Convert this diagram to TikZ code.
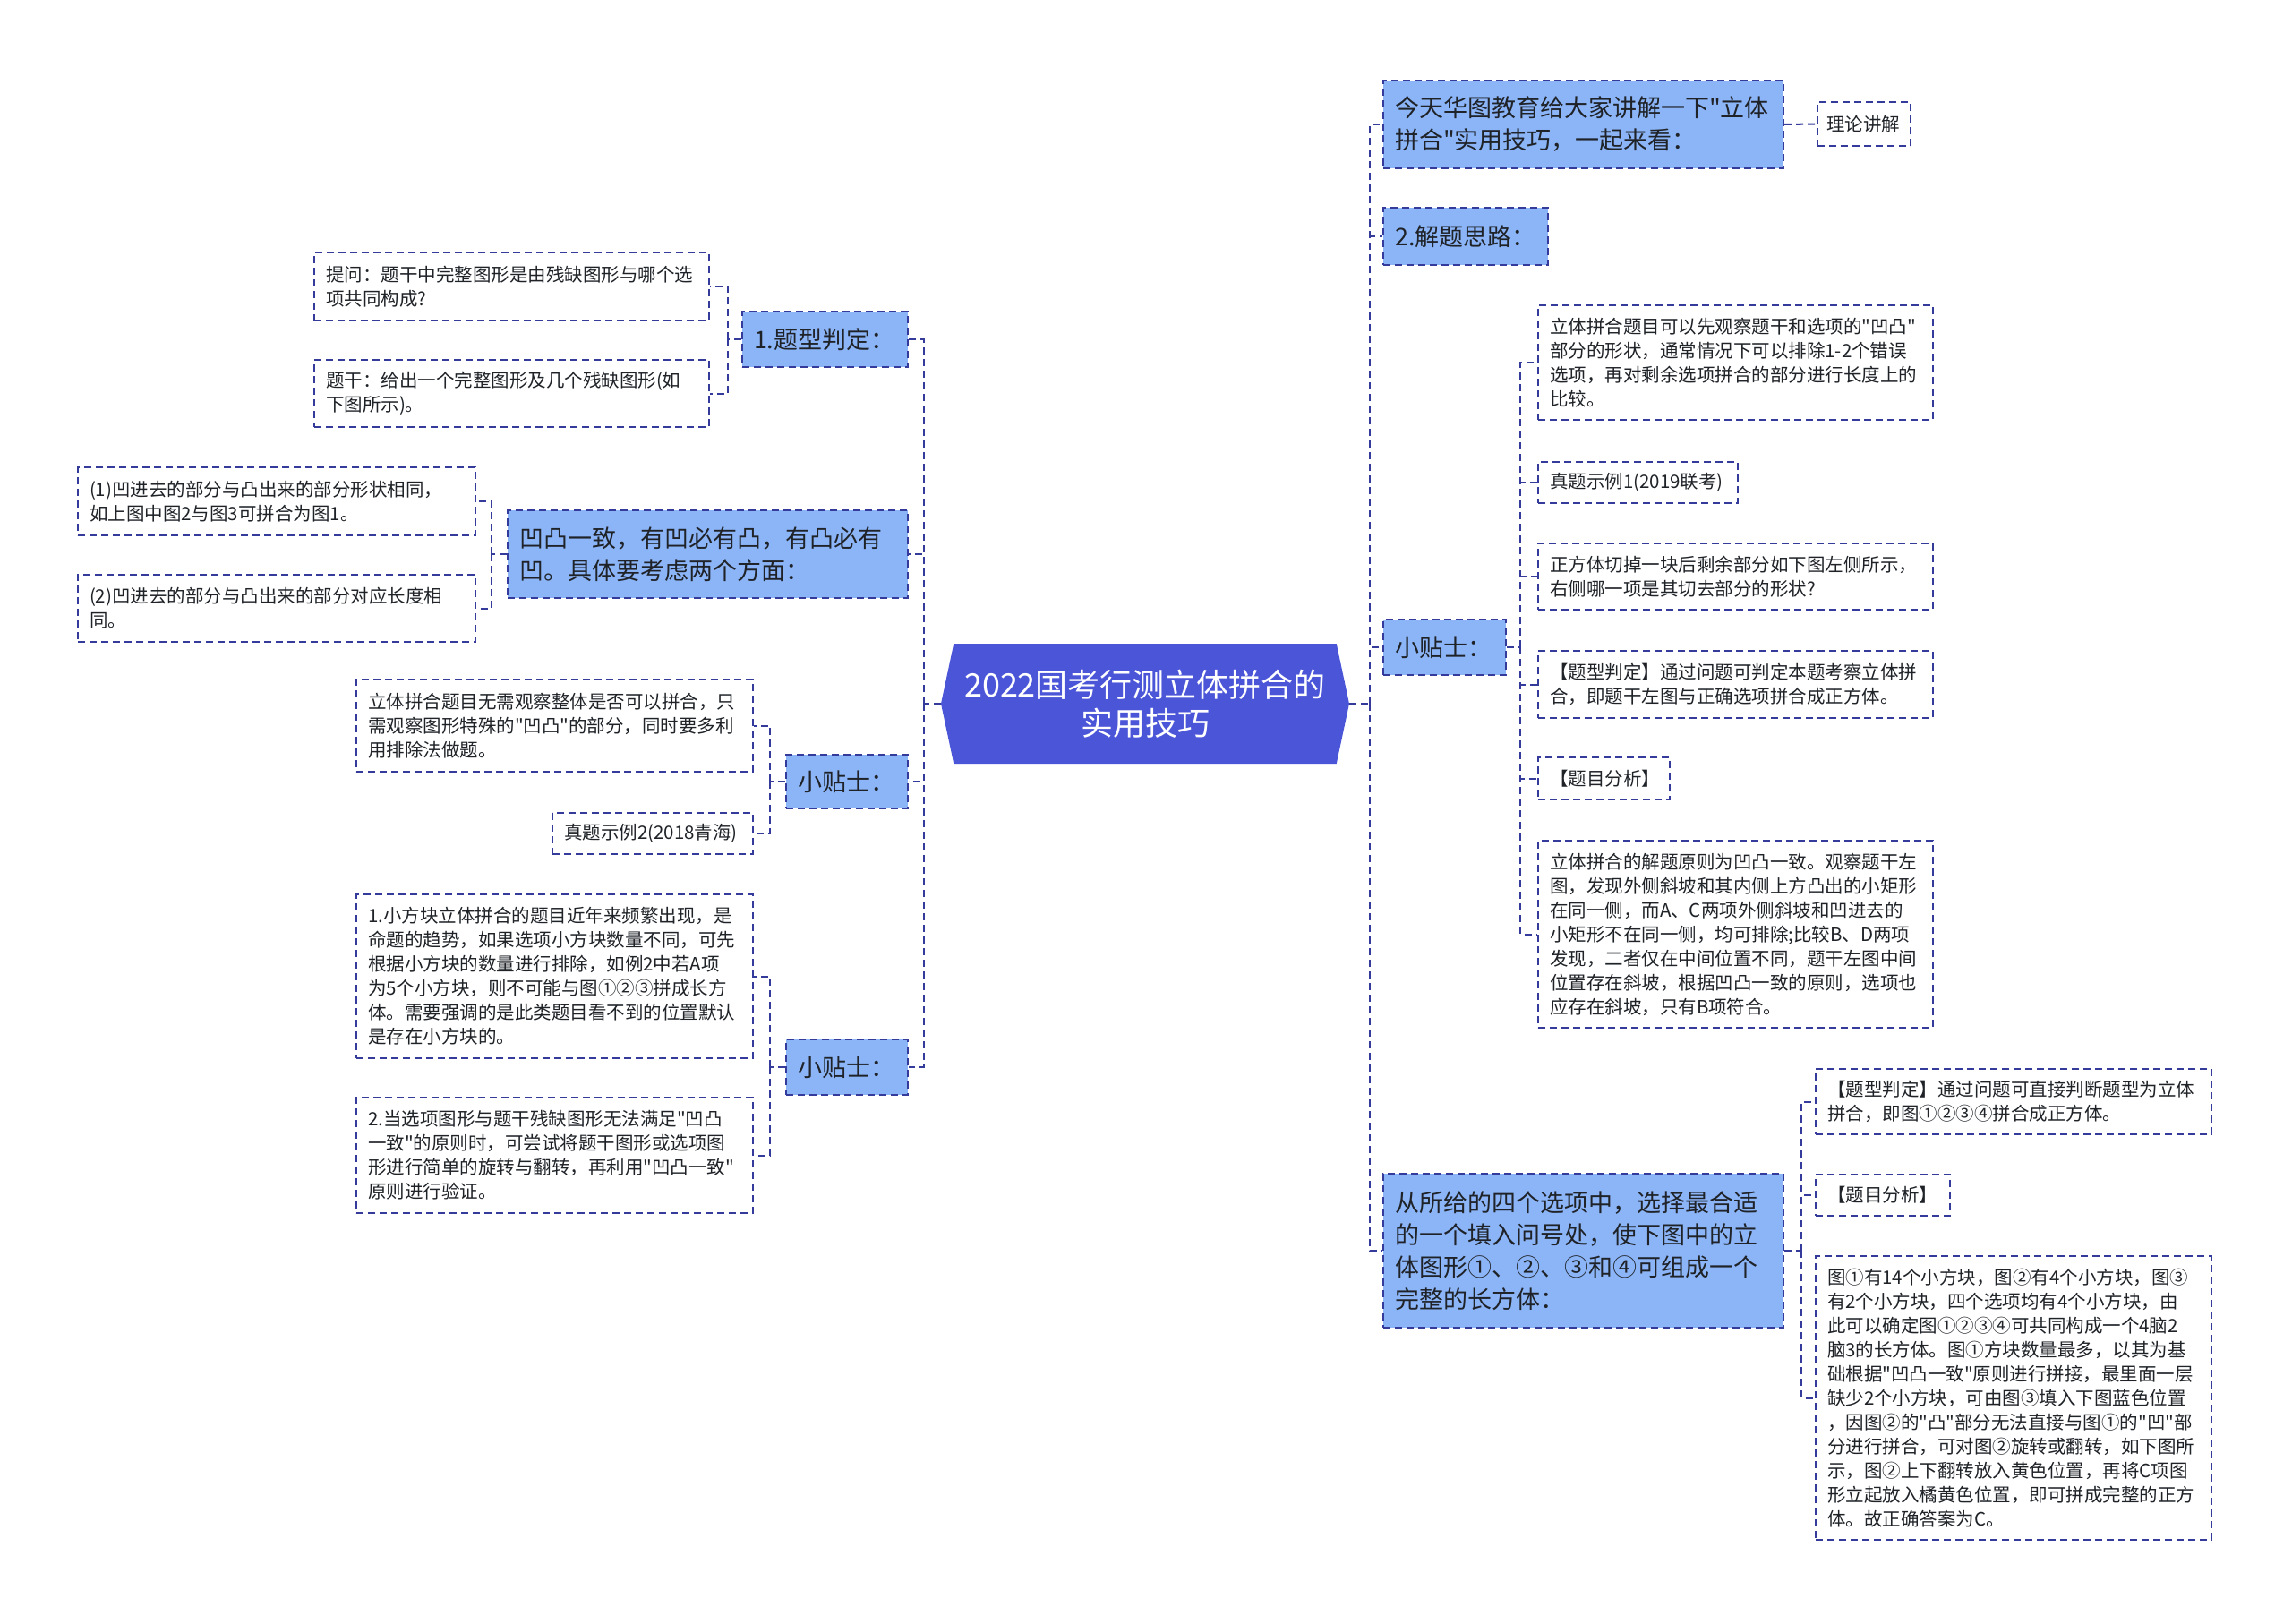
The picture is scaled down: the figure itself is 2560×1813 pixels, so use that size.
\documentclass[tikz,border=0pt]{standalone}
\usepackage{fontspec}
\setmainfont{Noto Sans CJK SC}[Ligatures=TeXOff]
\usepackage{tikz}
\usetikzlibrary{positioning,shapes.symbols,calc}
\definecolor{ink}     {HTML}{1F2328}
\definecolor{navy}    {HTML}{343B9A}
\definecolor{rootfill}{HTML}{4B55D8}
\definecolor{topicfill}{HTML}{8CB5F8}
\tikzset{
  % --- nodes
  topic/.style = {draw=navy, fill=topicfill, line width=2pt, dash pattern=on 8pt off 5pt,
                  align=left, inner xsep=13pt, inner ysep=0pt, text=ink,
                  font=\fontsize{27}{36}\selectfont},
  leaf/.style  = {topic, fill=white, font=\fontsize{20.5}{27}\selectfont},
  root/.style  = {signal, signal to=west and east, signal pointer angle=156,
                  fill=rootfill, text=white, align=center, inner sep=0pt,
                  minimum width=456pt, minimum height=134pt,
                  font=\fontsize{36}{43}\selectfont},
  % --- edges
  link/.style  = {draw=navy, line width=2pt, dash pattern=on 8pt off 5pt},
}
\begin{document}
\begin{tikzpicture}[x=1pt,y=-1pt]
  \useasboundingbox (0,0) rectangle (2560,1813);

  \node[root] (root) at (1279,786) {2022国考行测立体拼合的\\实用技巧};

  % right side
  \node[topic, text width=421pt, minimum height=98pt] (r1) at (1768.5,139)
    {今天华图教育给大家讲解一下"立体\\拼合"实用技巧，一起来看：};
  \node[leaf, text width=84pt, inner xsep=10pt, minimum height=49pt] (r1a) at (2082,138.5) {理论讲解};
  \node[topic, text width=158pt, minimum height=64pt] (r2) at (1637,264) {2.解题思路：};
  \node[topic, text width=111pt, minimum height=62pt] (r3) at (1613.5,723) {小贴士：};
  \node[leaf, text width=415pt, minimum height=128pt] (r3a) at (1938.5,405)
    {立体拼合题目可以先观察题干和选项的"凹凸"\\部分的形状，通常情况下可以排除1-2个错误\\选项，再对剩余选项拼合的部分进行长度上的\\比较。};
  \node[leaf, text width=197pt, minimum height=46pt] (r3b) at (1829.5,539) {真题示例1(2019联考)};
  \node[leaf, text width=415pt, minimum height=74pt] (r3c) at (1938.5,644)
    {正方体切掉一块后剩余部分如下图左侧所示，\\右侧哪一项是其切去部分的形状?};
  \node[leaf, text width=415pt, minimum height=75pt] (r3d) at (1938.5,764.5)
    {【题型判定】通过问题可判定本题考察立体拼\\合，即题干左图与正确选项拼合成正方体。};
  \node[leaf, text width=121pt, minimum height=47pt] (r3e) at (1791.5,869.5) {【题目分析】};
  \node[leaf, text width=415pt, minimum height=209pt] (r3f) at (1938.5,1043.5)
    {立体拼合的解题原则为凹凸一致。观察题干左\\图，发现外侧斜坡和其内侧上方凸出的小矩形\\在同一侧，而A、C两项外侧斜坡和凹进去的\\小矩形不在同一侧，均可排除;比较B、D两项\\发现，二者仅在中间位置不同，题干左图中间\\位置存在斜坡，根据凹凸一致的原则，选项也\\应存在斜坡，只有B项符合。};
  \node[topic, text width=421pt, minimum height=172pt] (r4) at (1768.5,1397)
    {从所给的四个选项中，选择最合适\\的一个填入问号处，使下图中的立\\体图形①、②、③和④可组成一个\\完整的长方体：};
  \node[leaf, text width=416pt, minimum height=73pt] (r4a) at (2249,1230.5)
    {【题型判定】通过问题可直接判断题型为立体\\拼合，即图①②③④拼合成正方体。};
  \node[leaf, text width=124pt, minimum height=46pt] (r4b) at (2103,1335) {【题目分析】};
  \node[leaf, text width=416pt, minimum height=317pt] (r4c) at (2249,1561.5)
    {图①有14个小方块，图②有4个小方块，图③\\有2个小方块，四个选项均有4个小方块，由\\此可以确定图①②③④可共同构成一个4脑2\\脑3的长方体。图①方块数量最多，以其为基\\础根据"凹凸一致"原则进行拼接，最里面一层\\缺少2个小方块，可由图③填入下图蓝色位置\\，因图②的"凸"部分无法直接与图①的"凹"部\\分进行拼合，可对图②旋转或翻转，如下图所\\示，图②上下翻转放入黄色位置，再将C项图\\形立起放入橘黄色位置，即可拼成完整的正方\\体。故正确答案为C。};

  % left side
  \node[topic, text width=159pt, minimum height=62pt] (l1) at (921.5,379) {1.题型判定：};
  \node[leaf, text width=415pt, minimum height=76pt] (l1a) at (571.5,320)
    {提问：题干中完整图形是由残缺图形与哪个选\\项共同构成?};
  \node[leaf, text width=415pt, minimum height=75pt] (l1b) at (571.5,439.5)
    {题干：给出一个完整图形及几个残缺图形(如\\下图所示)。};
  \node[topic, text width=421pt, minimum height=98pt] (l2) at (790.5,619)
    {凹凸一致，有凹必有凸，有凸必有\\凹。具体要考虑两个方面：};
  \node[leaf, text width=418pt, minimum height=76pt] (l2a) at (309,560)
    {(1)凹进去的部分与凸出来的部分形状相同，\\如上图中图2与图3可拼合为图1。};
  \node[leaf, text width=418pt, minimum height=75pt] (l2b) at (309,679.5)
    {(2)凹进去的部分与凸出来的部分对应长度相\\同。};
  \node[topic, text width=110pt, minimum height=60pt] (l3) at (946,873) {小贴士：};
  \node[leaf, text width=417pt, minimum height=103pt] (l3a) at (619.5,810.5)
    {立体拼合题目无需观察整体是否可以拼合，只\\需观察图形特殊的"凹凸"的部分，同时要多利\\用排除法做题。};
  \node[leaf, text width=198pt, minimum height=46pt] (l3b) at (729,931) {真题示例2(2018青海)};
  \node[topic, text width=110pt, minimum height=62pt] (l4) at (946,1192) {小贴士：};
  \node[leaf, text width=417pt, minimum height=183pt] (l4a) at (619.5,1090.5)
    {1.小方块立体拼合的题目近年来频繁出现，是\\命题的趋势，如果选项小方块数量不同，可先\\根据小方块的数量进行排除，如例2中若A项\\为5个小方块，则不可能与图①②③拼成长方\\体。需要强调的是此类题目看不到的位置默认\\是存在小方块的。};
  \node[leaf, text width=417pt, minimum height=129pt] (l4b) at (619.5,1290.5)
    {2.当选项图形与题干残缺图形无法满足"凹凸\\一致"的原则时，可尝试将题干图形或选项图\\形进行简单的旋转与翻转，再利用"凹凸一致"\\原则进行验证。};

  % junctions
  \coordinate (rj)  at (1530,786);
  \coordinate (lj)  at (1032,786);
  \coordinate (r3j) at (1698,723);
  \coordinate (r4j) at (2012,1397);
  \coordinate (l1j) at (813,379);
  \coordinate (l2j) at (549,619);
  \coordinate (l3j) at (860,873);
  \coordinate (l4j) at (860,1192);

  \draw[link] (root.east) -- (rj);
  \foreach \n in {r1,r2,r3,r4} \draw[link] (rj) |- (\n.west);
  \draw[link] (r1.east) -- (r1a.west);
  \draw[link] (r3.east) -- (r3j);
  \foreach \n in {r3a,r3b,r3c,r3d,r3e,r3f} \draw[link] (r3j) |- (\n.west);
  \draw[link] (r4.east) -- (r4j);
  \foreach \n in {r4a,r4b,r4c} \draw[link] (r4j) |- (\n.west);

  \draw[link] (root.west) -- (lj);
  \foreach \n in {l1,l2,l3,l4} \draw[link] (lj) |- (\n.east);
  \draw[link] (l1.west) -- (l1j);
  \foreach \n in {l1a,l1b} \draw[link] (l1j) |- (\n.east);
  \draw[link] (l2.west) -- (l2j);
  \foreach \n in {l2a,l2b} \draw[link] (l2j) |- (\n.east);
  \draw[link] (l3.west) -- (l3j);
  \foreach \n in {l3a,l3b} \draw[link] (l3j) |- (\n.east);
  \draw[link] (l4.west) -- (l4j);
  \foreach \n in {l4a,l4b} \draw[link] (l4j) |- (\n.east);
\end{tikzpicture}
\end{document}
